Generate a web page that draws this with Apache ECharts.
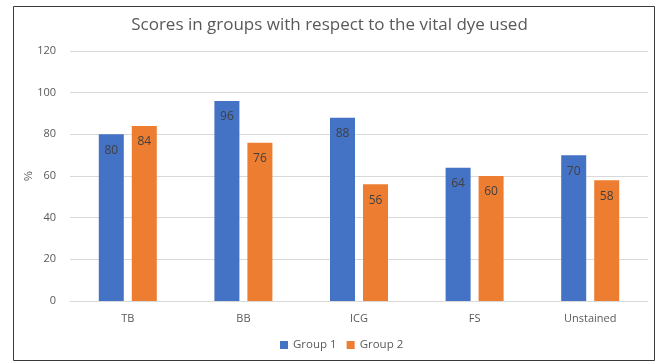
<!DOCTYPE html>
<html><head><meta charset="utf-8">
<script src="https://cdn.jsdelivr.net/npm/echarts@6/dist/echarts.min.js"></script>
<style>html,body{margin:0;padding:0;background:#fff;}#c{width:659px;height:362px;}</style>
</head><body><div id="c"></div>
<script>
const categories = ['TB','BB','ICG','FS','Unstained'];
const group1 = [80,96,88,64,70];
const group2 = [84,76,56,60,58];
const yTicks = [0,20,40,60,80,100,120];

const chart = echarts.init(document.getElementById('c'));
const lbl = {show:true, position:'insideTop', distance:10, color:'#404040', fontSize:12, fontFamily:'"Open Sans", sans-serif'};
chart.setOption({
  animation:false,
  title:{text:'Scores in groups with respect to the vital dye used', left:'center', top:12,
    textStyle:{color:'#595959', fontSize:17, fontWeight:'normal', fontFamily:'"Open Sans", sans-serif'}},
  graphic:[{type:'rect', shape:{x:13.5,y:6.5,width:641,height:354}, style:{fill:'none', stroke:'#3a3a3a', lineWidth:1}, silent:true}],
  legend:{bottom:6, left:275, itemWidth:8, itemHeight:8, itemGap:10, icon:'rect',
    textStyle:{color:'#595959', fontSize:11.5, fontFamily:'"Open Sans", sans-serif'}},
  grid:{left:70, right:11, top:51, bottom:61},
  xAxis:{type:'category', data:categories, axisTick:{show:false},
    axisLine:{lineStyle:{color:'#d9d9d9'}},
    axisLabel:{color:'#595959', fontSize:11, margin:12, fontFamily:'"Open Sans", sans-serif'}},
  yAxis:{type:'value', min:yTicks[0], max:yTicks[yTicks.length-1], interval:20,
    name:'%', nameLocation:'middle', nameGap:36, nameRotate:90, nameMoveOverlap:false,
    nameTextStyle:{color:'#595959', fontSize:11},
    axisLine:{show:false}, axisTick:{show:false},
    axisLabel:{color:'#595959', fontSize:11, margin:14, fontFamily:'"Open Sans", sans-serif'},
    splitLine:{lineStyle:{color:'#d9d9d9'}}},
  series:[
    {name:'Group 1', type:'bar', data:group1, barWidth:25, barGap:'32%', itemStyle:{color:'#4472C4'}, label:lbl},
    {name:'Group 2', type:'bar', data:group2, barWidth:25, itemStyle:{color:'#ED7D31'}, label:lbl}
  ]
});
</script></body></html>
